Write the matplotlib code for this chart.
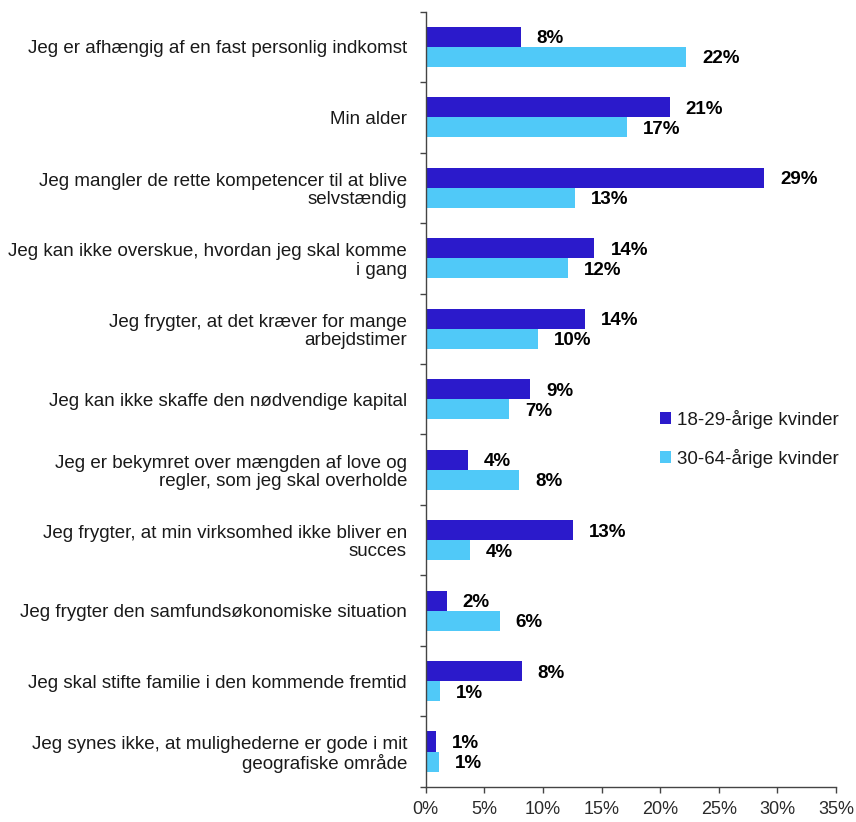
import numpy as np
import matplotlib
matplotlib.use("Agg")
import matplotlib.pyplot as plt
from matplotlib.ticker import FixedLocator, PercentFormatter

# survey answers, top to bottom
categories = [
    "Jeg er afhængig af en fast personlig indkomst",
    "Min alder",
    "Jeg mangler de rette kompetencer til at blive\nselvstændig",
    "Jeg kan ikke overskue, hvordan jeg skal komme\ni gang",
    "Jeg frygter, at det kræver for mange\narbejdstimer",
    "Jeg kan ikke skaffe den nødvendige kapital",
    "Jeg er bekymret over mængden af love og\nregler, som jeg skal overholde",
    "Jeg frygter, at min virksomhed ikke bliver en\nsucces",
    "Jeg frygter den samfundsøkonomiske situation",
    "Jeg skal stifte familie i den kommende fremtid",
    "Jeg synes ikke, at mulighederne er gode i mit\ngeografiske område",
]
young = [8.1, 20.8, 28.9, 14.4, 13.6, 8.9, 3.6, 12.6, 1.8, 8.2, 0.9]
older = [22.2, 17.2, 12.7, 12.1, 9.6, 7.1, 8.0, 3.8, 6.3, 1.2, 1.1]
series_names = ["18-29-årige kvinder", "30-64-årige kvinder"]
x_ticks = [0, 5, 10, 15, 20, 25, 30, 35]

DARK = "#2B1ACB"
LIGHT = "#50C9F8"
TXT = "#1a1a1a"

plt.rcParams["font.family"] = ["Liberation Sans", "DejaVu Sans"]

fig = plt.figure(figsize=(8.56, 8.22), dpi=100)
ax = fig.add_axes([0.4973, 0.0429, 0.4793, 0.9429])

y = np.arange(len(categories))
h = 0.284
b1 = ax.barh(y - h / 2, young, height=h, color=DARK, label=series_names[0])
b2 = ax.barh(y + h / 2, older, height=h, color=LIGHT, label=series_names[1])

#value labels at bar ends
for bars, vals in [(b1, young), (b2, older)]:
    for bar, v in zip(bars, vals):
        ax.annotate(f"{v:.0f}%", (v, bar.get_y() + bar.get_height() / 2),
                    xytext=(11.5, -1.5), textcoords="offset points",
                    ha="left", va="center", fontsize=13.5, fontweight="bold",
                    color="black")

ax.set_xlim(0, 35)
ax.set_ylim(len(categories) - 0.5, -0.5)
ax.xaxis.set_major_locator(FixedLocator(x_ticks))
ax.xaxis.set_major_formatter(PercentFormatter(decimals=0))

ax.set_yticks(y)
ax.set_yticklabels(categories, fontsize=13.5, color=TXT, linespacing=1.1)
ax.yaxis.set_minor_locator(FixedLocator(np.arange(len(categories) + 1) - 0.5))
ax.tick_params(axis="y", which="major", length=0, pad=13.5)
ax.tick_params(axis="y", which="minor", length=4.3, width=1, color="#444444")
ax.tick_params(axis="x", length=4, width=1, color="#444444",
               labelsize=13, labelcolor="#2a2a2a", pad=6)

for s in ["top", "right"]:
    ax.spines[s].set_visible(False)
for s in ["left", "bottom"]:
    ax.spines[s].set_color("#444444")
    ax.spines[s].set_linewidth(1)

leg = ax.legend(loc="upper left", bbox_to_anchor=(660 / 856, 1 - 410 / 822),
                bbox_transform=fig.transFigure, frameon=False, fontsize=13.5,
                handlelength=0.6, handleheight=0.6, handletextpad=0.3,
                labelspacing=1.05, borderpad=0, borderaxespad=0)
for t in leg.get_texts():
    t.set_color(TXT)

fig.savefig("out.png", dpi=100)
